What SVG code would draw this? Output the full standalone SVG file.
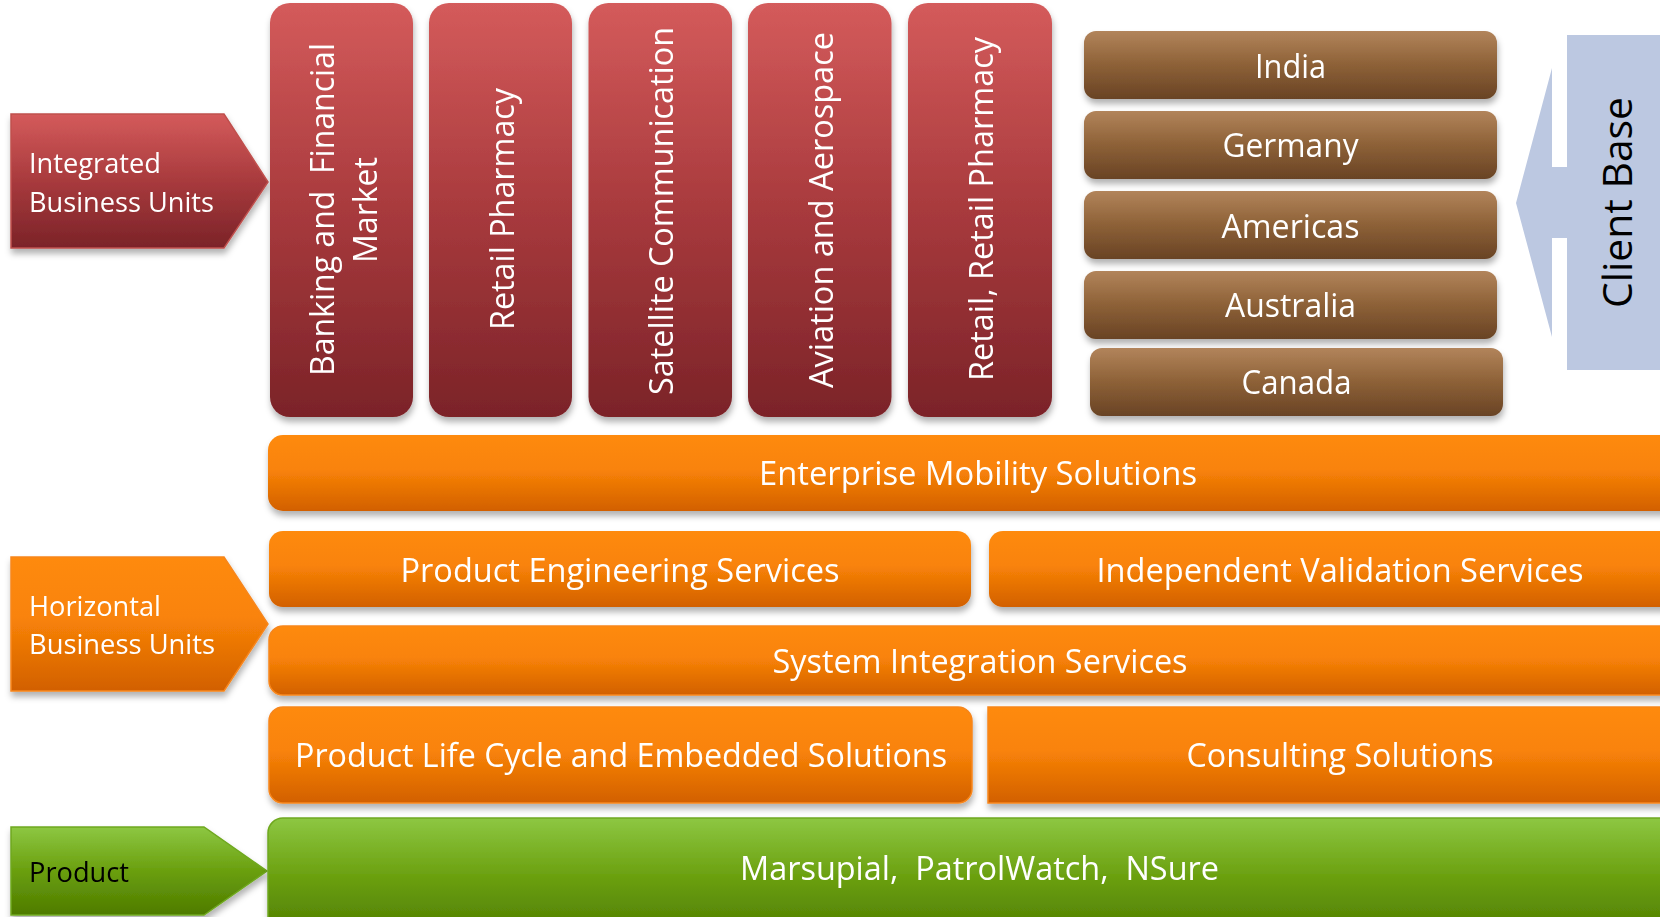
<svg xmlns="http://www.w3.org/2000/svg" width="1660" height="917" viewBox="0 0 1660 917">
<style>
.t{font-family:"Open Sans","Liberation Sans",sans-serif;fill:#fff;font-size:32px;}
.m{text-anchor:middle;}
.lbl{font-size:27.5px;}
.blk{fill:#000;}
.red{fill:url(#gRed);}
.brn{fill:url(#gBrn);}
.org{fill:url(#gOrg);}
.grn{fill:url(#gGrn);}
</style>
<defs>
<linearGradient id="gRed" x1="0" y1="0" x2="0" y2="1">
<stop offset="0" stop-color="#D45B5B"/><stop offset="0.5" stop-color="#A83A3D"/><stop offset="1" stop-color="#7B2328"/>
</linearGradient>
<linearGradient id="gBrn" x1="0" y1="0" x2="0" y2="1">
<stop offset="0" stop-color="#B2845B"/><stop offset="0.5" stop-color="#8D6137"/><stop offset="1" stop-color="#694325"/>
</linearGradient>
<linearGradient id="gOrg" x1="0" y1="0" x2="0" y2="1">
<stop offset="0" stop-color="#FE8A0B"/><stop offset="0.45" stop-color="#F98308"/><stop offset="1" stop-color="#D26000"/>
</linearGradient>
<linearGradient id="gGrn" x1="0" y1="0" x2="0" y2="1">
<stop offset="0" stop-color="#8DC742"/><stop offset="0.5" stop-color="#6A9F0E"/><stop offset="1" stop-color="#4E7B00"/>
</linearGradient>
<filter id="sh" x="-10%" y="-10%" width="120%" height="130%">
<feDropShadow dx="1" dy="5" stdDeviation="3" flood-color="#000" flood-opacity="0.3"/>
</filter>
</defs>
<rect width="1660" height="917" fill="#fff"/>

<g id="connectors"/>

<g id="integrated-business-units" filter="url(#sh)">
<polygon points="11,114 224,114 268,182 224,248 11,248" class="red" stroke="#C0504D" stroke-width="1.5"/>
<text class="t lbl" x="29" y="173" textLength="132" lengthAdjust="spacingAndGlyphs">Integrated</text>
<text class="t lbl" x="29" y="212" textLength="185" lengthAdjust="spacingAndGlyphs">Business Units</text>
</g>

<g id="col-banking" filter="url(#sh)">
<rect x="270" y="3" width="143" height="414" rx="20" class="red"/>
<text class="t m" x="334" y="209.5" transform="rotate(-90 334 209.5)" textLength="333" lengthAdjust="spacingAndGlyphs" xml:space="preserve">Banking and  Financial</text>
<text class="t m" x="377" y="210" transform="rotate(-90 377 210)" textLength="106" lengthAdjust="spacingAndGlyphs">Market</text>
</g>
<g id="col-retail-pharmacy" filter="url(#sh)">
<rect x="429" y="3" width="143" height="414" rx="20" class="red"/>
<text class="t m" x="513.5" y="209" transform="rotate(-90 513.5 209)" textLength="242" lengthAdjust="spacingAndGlyphs">Retail Pharmacy</text>
</g>
<g id="col-satellite" filter="url(#sh)">
<rect x="588.5" y="3" width="143.5" height="414" rx="20" class="red"/>
<text class="t m" x="673" y="211" transform="rotate(-90 673 211)" textLength="368" lengthAdjust="spacingAndGlyphs">Satellite Communication</text>
</g>
<g id="col-aviation" filter="url(#sh)">
<rect x="748" y="3" width="143.5" height="414" rx="20" class="red"/>
<text class="t m" x="833" y="210" transform="rotate(-90 833 210)" textLength="356" lengthAdjust="spacingAndGlyphs">Aviation and Aerospace</text>
</g>
<g id="col-retail-retail-pharmacy" filter="url(#sh)">
<rect x="908" y="3" width="144" height="414" rx="20" class="red"/>
<text class="t m" x="993" y="209" transform="rotate(-90 993 209)" textLength="344" lengthAdjust="spacingAndGlyphs">Retail, Retail Pharmacy</text>
</g>

<g id="india" filter="url(#sh)">
<rect x="1084" y="31" width="413" height="68" rx="12" class="brn"/>
<text class="t m" x="1290.5" y="77.5" textLength="71" lengthAdjust="spacingAndGlyphs">India</text>
</g>
<g id="germany" filter="url(#sh)">
<rect x="1084" y="111" width="413" height="68" rx="12" class="brn"/>
<text class="t m" x="1290.5" y="157" textLength="136" lengthAdjust="spacingAndGlyphs">Germany</text>
</g>
<g id="americas" filter="url(#sh)">
<rect x="1084" y="191" width="413" height="68" rx="12" class="brn"/>
<text class="t m" x="1290.5" y="237.5" textLength="138" lengthAdjust="spacingAndGlyphs">Americas</text>
</g>
<g id="australia" filter="url(#sh)">
<rect x="1084" y="271" width="413" height="68" rx="12" class="brn"/>
<text class="t m" x="1290.5" y="317" textLength="131" lengthAdjust="spacingAndGlyphs">Australia</text>
</g>
<g id="canada" filter="url(#sh)">
<rect x="1090" y="348" width="413" height="68" rx="12" class="brn"/>
<text class="t m" x="1296.5" y="393.5" textLength="110" lengthAdjust="spacingAndGlyphs">Canada</text>
</g>

<g id="client-base">
<polygon points="1567,35 1662,35 1662,370 1567,370 1567,238 1552,238 1552,337 1516,203 1552,68 1552,167 1567,167" fill="#BCC8E1"/>
<text class="t m blk" style="font-size:41px" x="1632" y="202.5" transform="rotate(-90 1632 202.5)" textLength="211" lengthAdjust="spacingAndGlyphs">Client Base</text>
</g>

<g id="enterprise-mobility" filter="url(#sh)">
<rect x="268" y="435" width="1420" height="76" rx="15" class="org"/>
<text class="t m" x="978" y="485" textLength="438" lengthAdjust="spacingAndGlyphs">Enterprise Mobility Solutions</text>
</g>

<g id="horizontal-business-units" filter="url(#sh)">
<polygon points="11,557 224,557 268,624 224,691 11,691" class="org" stroke="#F7861C" stroke-width="1.5"/>
<text class="t lbl" x="29" y="616" textLength="132" lengthAdjust="spacingAndGlyphs">Horizontal</text>
<text class="t lbl" x="29" y="654" textLength="186" lengthAdjust="spacingAndGlyphs">Business Units</text>
</g>

<g id="product-engineering" filter="url(#sh)">
<rect x="269" y="531" width="702" height="76" rx="14" class="org"/>
<text class="t m" x="620" y="582" textLength="439" lengthAdjust="spacingAndGlyphs">Product Engineering Services</text>
</g>
<g id="independent-validation" filter="url(#sh)">
<rect x="989" y="531" width="700" height="76" rx="14" class="org"/>
<text class="t m" x="1340" y="582" textLength="487" lengthAdjust="spacingAndGlyphs">Independent Validation Services</text>
</g>
<g id="system-integration" filter="url(#sh)">
<rect x="269" y="626" width="1420" height="69" rx="14" class="org" stroke="#F7861C" stroke-width="1.5"/>
<text class="t m" x="980" y="673" textLength="415" lengthAdjust="spacingAndGlyphs">System Integration Services</text>
</g>
<g id="product-life-cycle" filter="url(#sh)">
<rect x="269" y="707" width="703" height="96" rx="14" class="org" stroke="#F7861C" stroke-width="1.5"/>
<text class="t m" x="621" y="767" textLength="652" lengthAdjust="spacingAndGlyphs">Product Life Cycle and Embedded Solutions</text>
</g>
<g id="consulting" filter="url(#sh)">
<rect x="988" y="707" width="700" height="96" class="org" stroke="#F7861C" stroke-width="1.5"/>
<text class="t m" x="1340" y="767" textLength="307" lengthAdjust="spacingAndGlyphs">Consulting Solutions</text>
</g>

<g id="product-label" filter="url(#sh)">
<polygon points="11,827 204,827 267,871 204,915 11,915" class="grn" stroke="#6FA81F" stroke-width="1.5"/>
<text class="t lbl blk" x="29" y="882" textLength="100" lengthAdjust="spacingAndGlyphs">Product</text>
</g>
<g id="products" filter="url(#sh)">
<rect x="268" y="818" width="1420" height="120" rx="15" class="grn" stroke="#6FA81F" stroke-width="1.5"/>
<text class="t m" x="979.5" y="880" textLength="479" lengthAdjust="spacingAndGlyphs" xml:space="preserve">Marsupial,  PatrolWatch,  NSure</text>
</g>
</svg>
